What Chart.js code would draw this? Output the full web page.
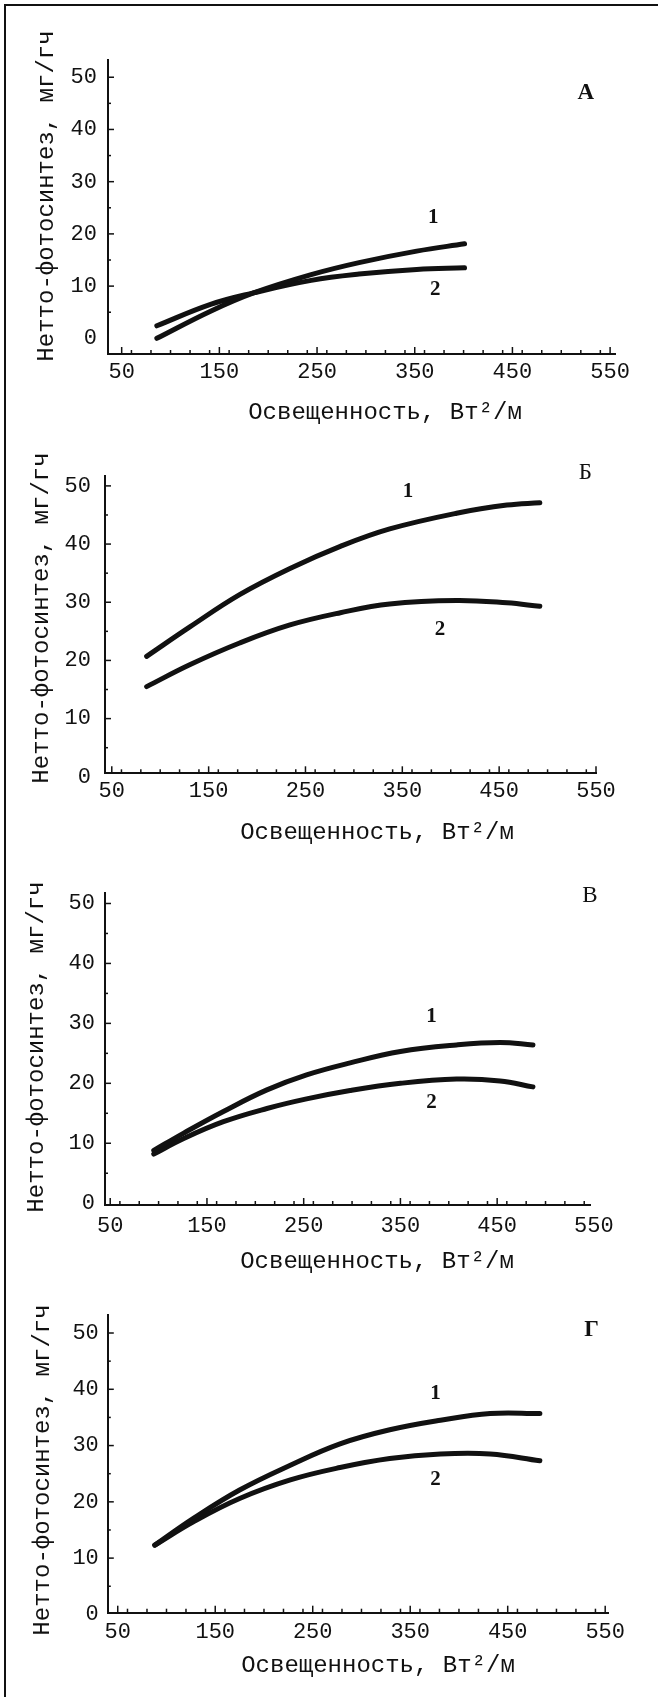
<!DOCTYPE html>
<html>
<head>
<meta charset="utf-8">
<script src="https://cdn.jsdelivr.net/npm/chart.js@4.4.1/dist/chart.umd.min.js"></script>
<style>
  html, body { margin: 0; padding: 0; background: #fff; }
  #page { position: relative; width: 663px; height: 1697px; overflow: hidden; }
  #frame { position: absolute; left: 4px; top: 4px; width: 652px; height: 1700px;
           border-top: 2px solid #111; border-left: 2px solid #111; }
  canvas { position: absolute; left: 0; }
</style>
</head>
<body>
<div id="page">
  <div id="frame"></div>
  <canvas id="chA" width="663" height="440" style="top:0px"></canvas>
  <canvas id="chB" width="663" height="430" style="top:430px"></canvas>
  <canvas id="chC" width="663" height="420" style="top:860px"></canvas>
  <canvas id="chD" width="663" height="417" style="top:1280px"></canvas>
</div>
<script>
const xTicks = [50, 150, 250, 350, 450, 550];
const yTicks = [0, 10, 20, 30, 40, 50];
const xTitle = 'Освещенность, Вт²/м';
const yTitle = 'Нетто-фотосинтез, мг/гч';

// panel А
const xA = [86, 141, 185, 244, 293, 352, 401];
const a1 = [0, 5.2, 8.7, 12.2, 14.5, 16.7, 18.1];
const a2 = [2.4, 6.5, 8.7, 11.1, 12.3, 13.2, 13.5];

// panel Б
const xB = [86, 131, 182, 234, 286, 337, 406, 458, 492];
const b1 = [20.7, 25.8, 31.3, 35.8, 39.6, 42.6, 45.3, 46.7, 47.1];
const b2 = [15.5, 19.3, 23.0, 26.1, 28.2, 29.7, 30.3, 29.9, 29.3];

// panel В
const xC = [95, 126, 167, 212, 253, 298, 350, 408, 453, 487];
const c1 = [8.8, 11.7, 15.3, 18.9, 21.4, 23.4, 25.3, 26.4, 26.8, 26.4];
const c2 = [8.2, 10.8, 13.6, 15.8, 17.4, 18.8, 20.0, 20.7, 20.4, 19.4];

// panel Г
const xD = [88, 128, 175, 227, 278, 329, 381, 432, 483];
const d1 = [12.3, 17.1, 22.1, 26.5, 30.3, 32.8, 34.5, 35.7, 35.7];
const d2 = [12.3, 16.5, 20.6, 23.9, 26.1, 27.7, 28.5, 28.5, 27.3];

const ink = '#111';
const mono = '"Liberation Mono", "DejaVu Sans Mono", monospace';
const serif = '"Liberation Serif", "DejaVu Serif", serif';

// layout of each panel (page pixels / axis ranges)
const panels = [
  { id: 'chA', top: 0, xs: xA, s1: a1, s2: a2, letter: 'A', letterBold: true,
    xMin: 36, xMax: 555, yMin: -3, yMax: 53.3,
    padTop: 60, padRight: 48, yW: 108, xH: 86, xLabPad: 5, yLabPad: 11,
    letterAt: [525, 47], oneAt: [369, 23.1], twoAt: [371, 9.4],
    xTitleAt: [385, 413], yTitleAt: [47, 196] },
  { id: 'chB', top: 430, xs: xB, s1: b1, s2: b2, letter: 'Б', letterBold: false,
    xMin: 43, xMax: 550, yMin: 0.6, yMax: 51.7,
    padTop: 46, padRight: 67, yW: 105, xH: 86.7, xLabPad: 5, yLabPad: 14,
    letterAt: [539, 52.2], oneAt: [356, 49], twoAt: [389, 25.3],
    xTitleAt: [377, 833], yTitleAt: [42, 618] },
  { id: 'chC', top: 860, xs: xC, s1: c1, s2: c2, letter: 'В', letterBold: false,
    xMin: 44.6, xMax: 546.7, yMin: -0.3, yMax: 51.7,
    padTop: 33.3, padRight: 72.3, yW: 105, xH: 75, xLabPad: 8, yLabPad: 10,
    letterAt: [546, 51.2], oneAt: [382, 31.1], twoAt: [382, 16.8],
    xTitleAt: [377, 1262], yTitleAt: [37, 1047] },
  { id: 'chD', top: 1280, xs: xD, s1: d1, s2: d2, letter: 'Г', letterBold: true,
    xMin: 39.8, xMax: 553.8, yMin: 0.3, yMax: 53.2,
    padTop: 35, padRight: 54.1, yW: 107.8, xH: 84.3, xLabPad: 6, yLabPad: 9,
    letterAt: [536, 50.5], oneAt: [376, 39.3], twoAt: [376, 23.9],
    xTitleAt: [378, 1666], yTitleAt: [43, 1470] }
];

// inward ticks, axis titles, curve numbers and panel letter
const decor = {
  id: 'decor',
  afterDraw(chart, args, o) {
    const { ctx, chartArea: ca, scales: { x, y } } = chart;
    const p = o.panel;
    ctx.save();
    ctx.strokeStyle = ink;
    ctx.lineWidth = 1.5;
    const seg = (x1, y1, x2, y2) => { ctx.beginPath(); ctx.moveTo(x1, y1); ctx.lineTo(x2, y2); ctx.stroke(); };
    for (let v = 60; v <= 540; v += 20) {
      const px = x.getPixelForValue(v);
      if (px > ca.left + 2 && px <= ca.right) seg(px, ca.bottom, px, ca.bottom - 4);
    }
    xTicks.forEach(v => {
      const px = x.getPixelForValue(v);
      if (px > ca.left + 2 && px <= ca.right) seg(px, ca.bottom, px, ca.bottom - 7);
    });
    for (let v = 5; v <= 50; v += 5) {
      const py = y.getPixelForValue(v);
      if (py >= ca.top && py < ca.bottom - 2) seg(ca.left, py, ca.left + (v % 10 ? 3 : 6), py);
    }

    ctx.fillStyle = ink;
    ctx.textAlign = 'center';
    ctx.textBaseline = 'middle';
    ctx.font = '24px ' + mono;
    ctx.fillText(xTitle, p.xTitleAt[0], p.xTitleAt[1] - p.top);
    ctx.save();
    ctx.translate(p.yTitleAt[0], p.yTitleAt[1] - p.top);
    ctx.rotate(-Math.PI / 2);
    ctx.fillText(yTitle, 0, 0);
    ctx.restore();

    ctx.font = 'bold 21px ' + serif;
    ctx.fillText('1', x.getPixelForValue(p.oneAt[0]), y.getPixelForValue(p.oneAt[1]));
    ctx.fillText('2', x.getPixelForValue(p.twoAt[0]), y.getPixelForValue(p.twoAt[1]));
    ctx.font = (p.letterBold ? 'bold ' : '') + '23px ' + serif;
    ctx.fillText(p.letter, x.getPixelForValue(p.letterAt[0]), y.getPixelForValue(p.letterAt[1]));
    ctx.restore();
  }
};

const series = (xs, ys) => xs.map((v, i) => ({ x: v, y: ys[i] }));

panels.forEach(p => {
  const lineStyle = {
    borderColor: ink, borderWidth: 5, pointRadius: 0, fill: false,
    tension: 0.4, borderCapStyle: 'round', borderJoinStyle: 'round'
  };
  new Chart(document.getElementById(p.id), {
    type: 'line',
    data: {
      datasets: [
        Object.assign({ label: '1', data: series(p.xs, p.s1) }, lineStyle),
        Object.assign({ label: '2', data: series(p.xs, p.s2) }, lineStyle)
      ]
    },
    options: {
      responsive: false,
      animation: false,
      layout: { padding: { top: p.padTop, right: p.padRight, left: 0, bottom: 0 } },
      plugins: { legend: { display: false }, tooltip: { enabled: false }, decor: { panel: p } },
      scales: {
        x: {
          type: 'linear', min: p.xMin, max: p.xMax,
          afterBuildTicks: s => { s.ticks = xTicks.map(v => ({ value: v })); },
          afterFit: s => { s.height = p.xH; },
          grid: { display: false, drawTicks: false },
          border: { display: true, color: ink, width: 2 },
          ticks: { autoSkip: false, maxRotation: 0, padding: p.xLabPad, color: ink,
                   font: { family: mono, size: 22 } }
        },
        y: {
          type: 'linear', min: p.yMin, max: p.yMax,
          afterBuildTicks: s => { s.ticks = yTicks.map(v => ({ value: v })); },
          afterFit: s => { s.width = p.yW; },
          grid: { display: false, drawTicks: false },
          border: { display: true, color: ink, width: 2 },
          ticks: { autoSkip: false, padding: p.yLabPad, color: ink,
                   font: { family: mono, size: 22 } }
        }
      }
    },
    plugins: [decor]
  });
});
</script>
</body>
</html>
